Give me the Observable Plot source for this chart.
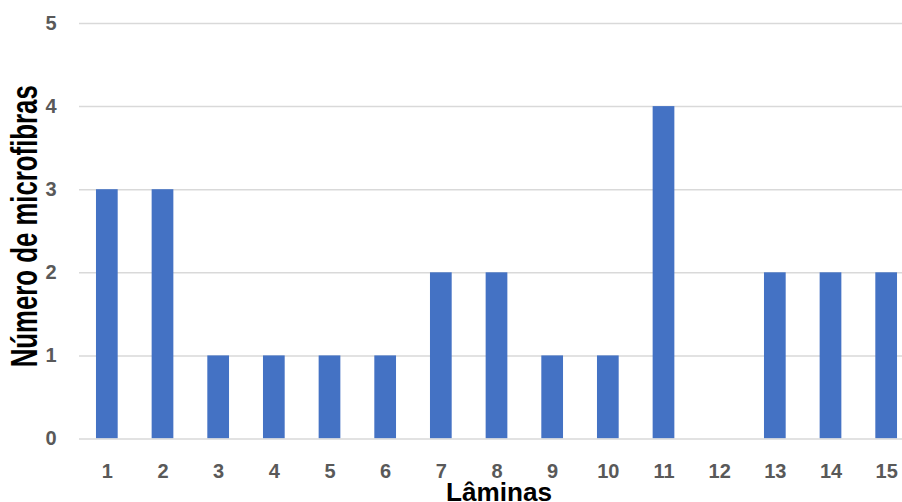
<!DOCTYPE html>
<html>
<head>
<meta charset="utf-8">
<script src="https://cdn.jsdelivr.net/npm/d3@7"></script>
<script src="https://cdn.jsdelivr.net/npm/@observablehq/plot@0.6"></script>
<style>
  html, body { margin: 0; padding: 0; background: #ffffff; }
  #chart svg { display: block; }
</style>
</head>
<body>
<div id="chart"></div>
<script>
// Microfibres counted on each slide
const laminas = ["1", "2", "3", "4", "5", "6", "7", "8", "9", "10", "11", "12", "13", "14", "15"];
const microfibras = [3, 3, 1, 1, 1, 1, 2, 2, 1, 1, 4, 0, 2, 2, 2];
const yTicks = [0, 1, 2, 3, 4, 5];
const xTitle = "Lâminas";
const yTitle = "Número de microfibras";

const data = laminas.map((l, i) => ({lamina: l, n: microfibras[i]}));

const font = "'Liberation Sans', Arial, sans-serif";

const chart = Plot.plot({
  width: 902,
  height: 502,
  marginLeft: 79,
  marginRight: 0,
  marginTop: 23,
  marginBottom: 63.5,
  style: {fontFamily: font, background: "#ffffff"},
  // the last band runs a little past the right edge of the drawing
  x: {domain: laminas, range: [79, 914], paddingInner: 0.61, paddingOuter: 0.305, round: false, label: null},
  y: {domain: [0, 5], ticks: yTicks, tickFormat: "d", label: null},
  marks: [
    Plot.ruleY(yTicks.filter(d => d > 0), {stroke: "#d9d9d9", strokeWidth: 1.5}),
    Plot.barY(data, {x: "lamina", y: "n", fill: "#4472c4"}),
    Plot.ruleY([0], {stroke: "#d9d9d9", strokeWidth: 1.5}),
    Plot.axisY({ticks: yTicks, tickFormat: "d", tickSize: 0, tickPadding: 23, fontSize: 20, fontWeight: "bold", fill: "#595959", label: null}),
    Plot.axisX({tickSize: 0, tickPadding: 25, fontSize: 20, fontWeight: "bold", fill: "#595959", label: null}),
    Plot.text([xTitle], {frameAnchor: "bottom", textAnchor: "middle", lineAnchor: "middle", dx: 8, dy: 53.5, fontSize: 25, fontWeight: "bold", fill: "#000000", className: "x-title"}),
    Plot.text([yTitle], {frameAnchor: "left", textAnchor: "middle", lineAnchor: "middle", rotate: -90, dx: -54, dy: -5, fontSize: 36, fontWeight: "bold", fill: "#000000", className: "y-title"})
  ]
});

// condense the axis titles to their set lengths
d3.select(chart).select(".x-title text").attr("textLength", 106).attr("lengthAdjust", "spacingAndGlyphs");
d3.select(chart).select(".y-title text").attr("textLength", 282).attr("lengthAdjust", "spacingAndGlyphs");

document.getElementById("chart").appendChild(chart);
</script>
</body>
</html>
